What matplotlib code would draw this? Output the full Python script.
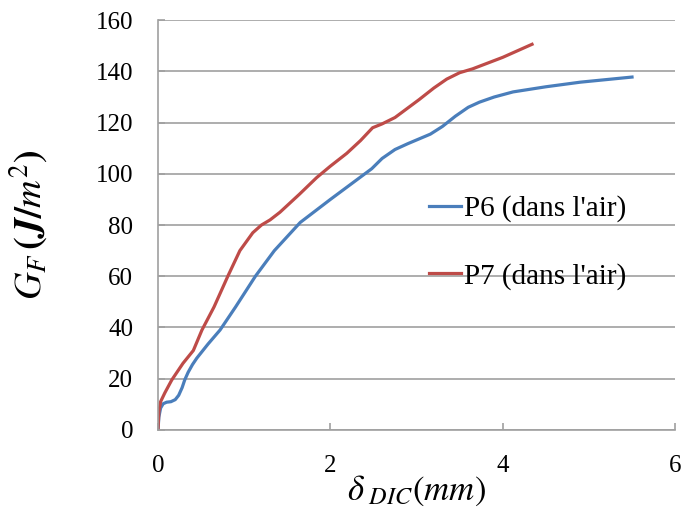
import matplotlib.pyplot as plt

plt.rcParams['font.family'] = ['Liberation Serif', 'DejaVu Serif']
plt.rcParams['mathtext.fontset'] = 'stix'

# P6 (dans l'air)
p6_x = [0, 0.01, 0.03, 0.06, 0.1, 0.15, 0.2, 0.24, 0.28, 0.31, 0.35, 0.4, 0.45, 0.58, 0.72,
        0.9, 1.13, 1.35, 1.65, 2.0, 2.3, 2.48, 2.6, 2.75, 2.9, 3.16, 3.3, 3.45, 3.6, 3.73,
        3.9, 4.12, 4.5, 4.9, 5.5]
p6_y = [0, 5, 8.5, 10.2, 10.8, 11, 11.8, 13.5, 16.5, 19.5, 22.5, 25.5, 28, 33.5, 39,
        48, 60, 70, 81, 90, 97.5, 102, 106, 109.5, 111.8, 115.5, 118.5, 122.5, 126, 128,
        130, 132, 134, 135.8, 137.8]

# P7 (dans l'air)
p7_x = [0, 0.01, 0.03, 0.08, 0.16, 0.29, 0.41, 0.51, 0.65, 0.81, 0.95, 1.1, 1.2, 1.3,
        1.415, 1.64, 1.84, 2.0, 2.19, 2.35, 2.49, 2.6, 2.75, 3.03, 3.2, 3.35, 3.5, 3.65,
        4.0, 4.34]
p7_y = [0, 7, 11, 14.5, 19.5, 26, 31, 39, 48, 60, 70, 77, 80, 82,
        85, 92, 98.5, 103, 108, 113, 118, 119.5, 122, 129, 133.5, 137, 139.5, 141,
        145.5, 150.6]

x_ticks = [0, 2, 4, 6]
y_ticks = [0, 20, 40, 60, 80, 100, 120, 140, 160]

fig = plt.figure(figsize=(6.84, 5.32), dpi=100)
ax = fig.add_axes([0.231, 0.192, 0.756, 0.770])

ax.plot(p6_x, p6_y, color='#4A7EBB', lw=2.3, label="P6 (dans l'air)")
ax.plot(p7_x, p7_y, color='#BE4B48', lw=2.3, label="P7 (dans l'air)")

ax.set_xlim(0, 6)
ax.set_ylim(0, 160)
ax.set_xticks(x_ticks)
ax.set_yticks(y_ticks)
ax.yaxis.grid(True, color='#a0a0a0', lw=1.2)
ax.set_axisbelow(True)
for s in ['top', 'right']:
    ax.spines[s].set_visible(False)
for s in ['left', 'bottom']:
    ax.spines[s].set_color('#a0a0a0')
    ax.spines[s].set_linewidth(1.2)
ax.tick_params(colors='#a0a0a0', labelcolor='black', labelsize=18,
               direction='in', length=5, width=1.2)
ax.tick_params(axis='y', pad=18)
ax.tick_params(axis='x', pad=18)

ax.set_xlabel(r'$\delta_{\ DIC}(mm)$', fontsize=25, labelpad=-2)
ax.set_ylabel(r'$\boldsymbol{G_F\,(J/m^2)}$', fontsize=27.5, labelpad=33)

leg = ax.legend(loc='upper left', bbox_to_anchor=(0.474, 0.637), frameon=False,
                fontsize=21, handlelength=1.1, handletextpad=0.1, labelspacing=1.4)

fig.savefig('out.png', dpi=100)
